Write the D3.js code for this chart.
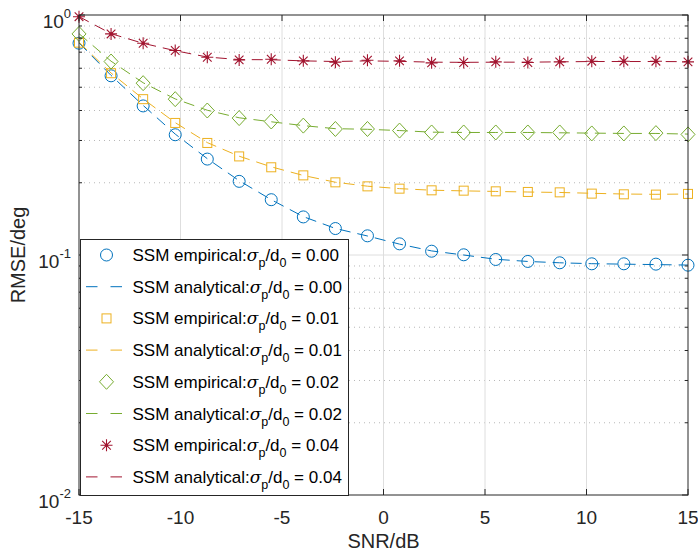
<!DOCTYPE html>
<html>
<head>
<meta charset="utf-8">
<script src="https://cdn.jsdelivr.net/npm/d3@7"></script>
<style>
  html, body { margin: 0; padding: 0; background: #fff; }
  svg { display: block; font-family: "Liberation Sans", Arial, Helvetica, sans-serif; }
</style>
</head>
<body>
<svg id="chart" width="698" height="552"></svg>
<script>
// SNR grid (dB)
const snr = [-15, -13.42, -11.84, -10.26, -8.68, -7.11, -5.53, -3.95, -2.37, -0.79,
             0.79, 2.37, 3.95, 5.53, 7.11, 8.68, 10.26, 11.84, 13.42, 15];

// RMSE (deg), simulated
const emp000 = [0.763, 0.558, 0.418, 0.317, 0.251, 0.2027, 0.170, 0.1441, 0.1289, 0.1202,
                0.1113, 0.1037, 0.1002, 0.0958, 0.0940, 0.0928, 0.0919, 0.0919, 0.0916, 0.0907];
const emp001 = [0.767, 0.572, 0.446, 0.355, 0.293, 0.2575, 0.232, 0.2147, 0.2008, 0.1932,
                0.189, 0.186, 0.1854, 0.1842, 0.1831, 0.1824, 0.1802, 0.179, 0.1785, 0.1797];
const emp002 = [0.834, 0.640, 0.520, 0.446, 0.400, 0.372, 0.360, 0.346, 0.335, 0.335,
                0.330, 0.324, 0.324, 0.324, 0.324, 0.324, 0.321, 0.321, 0.322, 0.318];
const emp004 = [0.984, 0.834, 0.763, 0.711, 0.667, 0.650, 0.654, 0.644, 0.636, 0.648,
                0.644, 0.632, 0.634, 0.638, 0.634, 0.638, 0.642, 0.642, 0.642, 0.638];

// RMSE (deg), analytical
const ana000 = [0.765, 0.560, 0.420, 0.319, 0.252, 0.204, 0.170, 0.1445, 0.1290, 0.1200,
                0.1110, 0.1040, 0.1000, 0.0960, 0.0940, 0.0928, 0.0920, 0.0916, 0.0912, 0.0908];
const ana001 = [0.770, 0.573, 0.447, 0.356, 0.294, 0.258, 0.233, 0.2145, 0.2010, 0.1935,
                0.1890, 0.1862, 0.1850, 0.1840, 0.1830, 0.1822, 0.1808, 0.1795, 0.1790, 0.1795];
const ana002 = [0.836, 0.642, 0.522, 0.447, 0.401, 0.373, 0.359, 0.346, 0.336, 0.334,
                0.330, 0.325, 0.324, 0.324, 0.324, 0.323, 0.322, 0.321, 0.321, 0.319];
const ana004 = [0.985, 0.836, 0.762, 0.710, 0.668, 0.652, 0.651, 0.644, 0.640, 0.644,
                0.641, 0.636, 0.635, 0.636, 0.636, 0.638, 0.640, 0.640, 0.640, 0.639];

const sigmaLabels = ["0.00", "0.01", "0.02", "0.04"];
const seriesColors = ["#0072BD", "#EDB120", "#77AC30", "#A2142F"];
const markerKinds = ["circle", "square", "diamond", "star"];

const xTicks = [-15, -10, -5, 0, 5, 10, 15];
const yTickExps = [-2, -1, 0];

const plot = { left: 79, right: 688, top: 15, bottom: 495 };
const ink = "#262626";

const svg = d3.select("#chart");
const x = d3.scaleLinear().domain([-15, 15]).range([plot.left, plot.right]);
const y = d3.scaleLog().domain([0.01, 1]).range([plot.bottom, plot.top]);

// grid
const grid = svg.append("g");
const minorVals = [];
[0.01, 0.1].forEach(d => { for (let k = 2; k <= 9; k++) minorVals.push(d * k); });
grid.selectAll("line.minor").data(minorVals).join("line")
  .attr("x1", plot.left).attr("x2", plot.right)
  .attr("y1", d => y(d)).attr("y2", d => y(d))
  .attr("stroke", "#b8b8b8").attr("stroke-width", 1)
  .attr("stroke-dasharray", "1,4");
grid.selectAll("line.majorx").data(xTicks.slice(1, -1)).join("line")
  .attr("x1", d => x(d)).attr("x2", d => x(d))
  .attr("y1", plot.top).attr("y2", plot.bottom)
  .attr("stroke", "#dedede").attr("stroke-width", 1);
grid.append("line")
  .attr("x1", plot.left).attr("x2", plot.right)
  .attr("y1", y(0.1)).attr("y2", y(0.1))
  .attr("stroke", "#dedede").attr("stroke-width", 1);

// marker painter
function drawMarker(g, kind, cx, cy, color) {
  if (kind === "circle") {
    g.append("circle").attr("cx", cx).attr("cy", cy).attr("r", 6)
      .attr("fill", "none").attr("stroke", color).attr("stroke-width", 1);
  } else if (kind === "square") {
    g.append("rect").attr("x", cx - 4.5).attr("y", cy - 4.5).attr("width", 9).attr("height", 9)
      .attr("fill", "none").attr("stroke", color).attr("stroke-width", 1);
  } else if (kind === "diamond") {
    g.append("path")
      .attr("d", `M${cx},${cy - 7.5}L${cx + 7},${cy}L${cx},${cy + 7.5}L${cx - 7},${cy}Z`)
      .attr("fill", "none").attr("stroke", color).attr("stroke-width", 1);
  } else {
    const r = 6, q = r * 0.72;
    g.append("path")
      .attr("d", `M${cx - r},${cy}H${cx + r}M${cx},${cy - r}V${cy + r}` +
                 `M${cx - q},${cy - q}L${cx + q},${cy + q}M${cx - q},${cy + q}L${cx + q},${cy - q}`)
      .attr("fill", "none").attr("stroke", color).attr("stroke-width", 1.1);
    g.append("circle").attr("cx", cx).attr("cy", cy).attr("r", 1.6).attr("fill", color);
  }
}

const empirical = [emp000, emp001, emp002, emp004];
const analytical = [ana000, ana001, ana002, ana004];
const line = d3.line().x((d, i) => x(snr[i])).y(d => y(d));

const dataG = svg.append("g");
empirical.forEach((vals, s) => {
  dataG.append("path").datum(analytical[s])
    .attr("d", line).attr("fill", "none")
    .attr("stroke", seriesColors[s]).attr("stroke-width", 1)
    .attr("stroke-dasharray", "11,7");
  const mg = dataG.append("g");
  vals.forEach((v, i) => drawMarker(mg, markerKinds[s], x(snr[i]), y(v), seriesColors[s]));
});

// axes box and ticks
const axes = svg.append("g");
axes.append("rect")
  .attr("x", plot.left).attr("y", plot.top)
  .attr("width", plot.right - plot.left).attr("height", plot.bottom - plot.top)
  .attr("fill", "none").attr("stroke", ink).attr("stroke-width", 1);

const tickLen = 6, minorLen = 3;
xTicks.forEach(t => {
  axes.append("line").attr("x1", x(t)).attr("x2", x(t))
    .attr("y1", plot.bottom).attr("y2", plot.bottom - tickLen).attr("stroke", ink);
  axes.append("line").attr("x1", x(t)).attr("x2", x(t))
    .attr("y1", plot.top).attr("y2", plot.top + tickLen).attr("stroke", ink);
});
yTickExps.forEach(e => {
  const yy = y(Math.pow(10, e));
  axes.append("line").attr("x1", plot.left).attr("x2", plot.left + tickLen)
    .attr("y1", yy).attr("y2", yy).attr("stroke", ink);
  axes.append("line").attr("x1", plot.right).attr("x2", plot.right - tickLen)
    .attr("y1", yy).attr("y2", yy).attr("stroke", ink);
});
minorVals.forEach(v => {
  const yy = y(v);
  axes.append("line").attr("x1", plot.left).attr("x2", plot.left + minorLen)
    .attr("y1", yy).attr("y2", yy).attr("stroke", ink);
  axes.append("line").attr("x1", plot.right).attr("x2", plot.right - minorLen)
    .attr("y1", yy).attr("y2", yy).attr("stroke", ink);
});

// tick labels
const xLabG = svg.append("g").attr("font-size", 19).attr("fill", ink).attr("text-anchor", "middle");
xTicks.forEach(t => {
  xLabG.append("text").attr("x", x(t)).attr("y", plot.bottom + 29).text(t);
});
const yLabG = svg.append("g").attr("fill", ink);
yTickExps.forEach(e => {
  const yy = y(Math.pow(10, e));
  const t = yLabG.append("text").attr("text-anchor", "end").attr("x", plot.left - 8)
    .attr("y", yy + 13).attr("font-size", 19);
  t.append("tspan").text("10");
  t.append("tspan").attr("dy", -10).attr("font-size", 13).text(e);
});

// axis titles
svg.append("text").attr("x", x(0)).attr("y", plot.bottom + 53)
  .attr("text-anchor", "middle").attr("font-size", 20).attr("fill", ink).text("SNR/dB");
svg.append("text").attr("transform", `translate(${25},${(plot.top + plot.bottom) / 2}) rotate(-90)`)
  .attr("text-anchor", "middle").attr("font-size", 20).attr("fill", ink).text("RMSE/deg");

// legend
const leg = { x: 80, y: 239, w: 268, h: 256, row: 31.7 };
const legG = svg.append("g");
legG.append("rect").attr("x", leg.x + 0.5).attr("y", leg.y + 0.5)
  .attr("width", leg.w).attr("height", leg.h)
  .attr("fill", "#fff").attr("stroke", ink).attr("stroke-width", 1);

const entries = [];
sigmaLabels.forEach((lab, s) => {
  entries.push({ kind: "marker", s, name: "SSM empirical:", lab });
  entries.push({ kind: "line", s, name: "SSM analytical:", lab });
});
entries.forEach((en, i) => {
  const cy = leg.y + 16 + i * leg.row;
  if (en.kind === "marker") {
    drawMarker(legG, markerKinds[en.s], 106.5, cy, seriesColors[en.s]);
  } else {
    legG.append("line").attr("x1", 86).attr("x2", 122).attr("y1", cy).attr("y2", cy)
      .attr("stroke", seriesColors[en.s]).attr("stroke-width", 1)
      .attr("stroke-dasharray", "11.5,13");
  }
  const t = legG.append("text").attr("x", 132.5).attr("y", cy + 6)
    .attr("font-size", 17).attr("fill", "#000");
  t.append("tspan").text(en.name);
  t.append("tspan").attr("font-family", "'DejaVu Serif', serif").attr("font-style", "italic").text("σ");
  t.append("tspan").attr("dy", 6).attr("font-size", 12.5).text("p");
  t.append("tspan").attr("dy", -6).text("/d");
  t.append("tspan").attr("dy", 6).attr("font-size", 12.5).text("0");
  t.append("tspan").attr("dy", -6).text(" = " + en.lab);
});
</script>
</body>
</html>
